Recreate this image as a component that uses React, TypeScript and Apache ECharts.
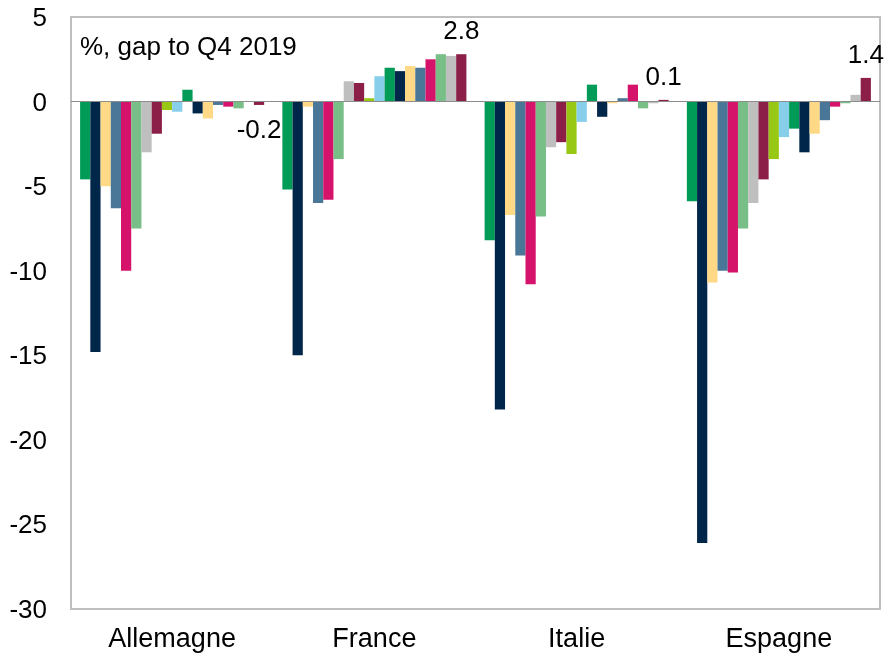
import React, { useEffect, useRef } from "react";
import * as echarts from "echarts";

// Countries on the category axis
const countries = ["Allemagne", "France", "Italie", "Espagne"];

// Quarters, one bar per quarter in each country group
const quarters = [
  "Q1 2020", "Q2 2020", "Q3 2020", "Q4 2020",
  "Q1 2021", "Q2 2021", "Q3 2021", "Q4 2021",
  "Q1 2022", "Q2 2022", "Q3 2022", "Q4 2022",
  "Q1 2023", "Q2 2023", "Q3 2023", "Q4 2023",
  "Q1 2024", "Q2 2024",
];

// GDP gap to Q4 2019, in %, per quarter
const allemagne = [-4.6, -14.8, -5.0, -6.3, -10.0, -7.5, -3.0, -1.9, -0.5, -0.6, 0.7, -0.7, -1.0, -0.2, -0.3, -0.4, 0.0, -0.2];
const france = [-5.2, -15.0, -0.3, -6.0, -5.8, -3.4, 1.2, 1.1, 0.2, 1.5, 2.0, 1.8, 2.1, 2.0, 2.5, 2.8, 2.7, 2.8];
const italie = [-8.2, -18.2, -6.7, -9.1, -10.8, -6.8, -2.7, -2.4, -3.1, -1.2, 1.0, -0.9, -0.1, 0.2, 1.0, -0.4, -0.1, 0.1];
const espagne = [-5.9, -26.1, -10.7, -10.0, -10.1, -7.5, -6.0, -4.6, -3.4, -2.1, -1.6, -3.0, -1.9, -1.1, -0.3, -0.1, 0.4, 1.4];

// Value axis ticks
const yTicks = { min: -30, max: 5, interval: 5 };

const palette = [
  "#009B57", "#00264A", "#FFD985", "#4A7698", "#D6136A",
  "#78BE87", "#BFBFBF", "#8B1F47", "#99C814", "#87CEEB",
];

const FONT = "Liberation Sans, Arial, sans-serif";

export default function App() {
  const ref = useRef<HTMLDivElement>(null);

  useEffect(() => {
    if (!ref.current) return;
    const chart = echarts.init(ref.current, undefined, { renderer: "svg" });
    const byCountry = [allemagne, france, italie, espagne];
    const last = quarters.length - 1;

    const series: any[] = quarters.map((q, i) => ({
      name: q,
      type: "bar",
      barGap: "0%",
      barCategoryGap: "9%",
      itemStyle: { color: palette[i % palette.length] },
      data: byCountry.map((vals) => {
        const v = vals[i];
        if (i !== last) return v;
        return {
          value: v,
          label: {
            show: true,
            position: v >= 0 ? "top" : "bottom",
            distance: 11,
            formatter: (p: any) => Number(p.value).toFixed(1),
            fontSize: 26,
            fontFamily: FONT,
            color: "#000",
          },
        };
      }),
      ...(i === 0
        ? {
            markLine: {
              silent: true,
              symbol: ["none", "none"],
              label: { show: false },
              lineStyle: { color: "#8C8C8C", type: "solid", width: 1 },
              data: [{ yAxis: 0 }],
            },
          }
        : {}),
    }));

    chart.setOption({
      animation: false,
      grid: {
        left: 71,
        right: 9,
        top: 17,
        bottom: 46,
        show: true,
        borderColor: "#BFBFBF",
        borderWidth: 2,
        backgroundColor: "transparent",
      },
      xAxis: {
        type: "category",
        data: countries,
        axisLine: { show: false, onZero: false },
        axisTick: { show: false },
        axisLabel: {
          fontSize: 27,
          fontFamily: FONT,
          color: "#000",
          margin: 15,
        },
      },
      yAxis: {
        type: "value",
        min: yTicks.min,
        max: yTicks.max,
        interval: yTicks.interval,
        axisLine: { show: false },
        axisTick: { show: false },
        splitLine: { show: false },
        axisLabel: {
          fontSize: 26,
          fontFamily: FONT,
          color: "#000",
          margin: 24,
        },
      },
      graphic: [
        {
          type: "text",
          left: 80,
          top: 33,
          style: {
            text: "%, gap to Q4 2019",
            font: `26px ${FONT}`,
            fill: "#000",
          },
        },
      ],
      series,
    });

    return () => chart.dispose();
  }, []);

  return (
    <div
      ref={ref}
      style={{ position: "fixed", left: 0, top: 0, width: 889, height: 655 }}
    />
  );
}
